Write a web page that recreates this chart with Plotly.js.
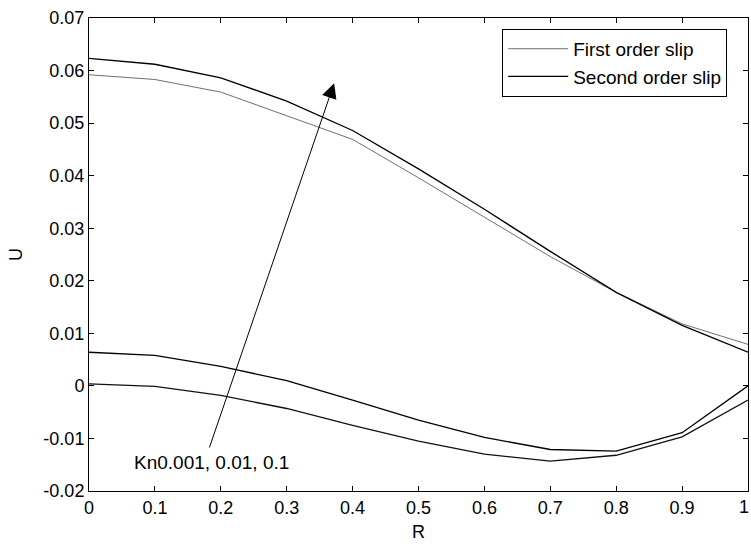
<!DOCTYPE html>
<html>
<head>
<meta charset="utf-8">
<script src="https://cdn.plot.ly/plotly-3.0.1.min.js"></script>
<style>html,body{margin:0;padding:0;background:#fff;}#chart{width:751px;height:544px;}</style>
</head>
<body>
<div id="chart"></div>
<script>
const R = [0, 0.1, 0.2, 0.3, 0.4, 0.5, 0.6, 0.7, 0.8, 0.9, 1.0];
const firstOrderTop = [0.0592, 0.0583, 0.0559, 0.0514, 0.0469, 0.0396, 0.0321, 0.0246, 0.0178, 0.0118, 0.0079];
const secondOrderTop = [0.0623, 0.0612, 0.0586, 0.0542, 0.0486, 0.0413, 0.0336, 0.0256, 0.0178, 0.0115, 0.0064];
const bottomUpper = [0.0064, 0.0058, 0.0037, 0.0010, -0.0027, -0.0065, -0.0098, -0.0121, -0.0124, -0.0089, 0.0000];
const bottomLower = [0.0004, -0.0001, -0.0018, -0.0043, -0.0075, -0.0105, -0.0130, -0.0143, -0.0132, -0.0097, -0.0027];
const seriesNames = ["First order slip", "Second order slip"];
const xTicks = [0, 0.1, 0.2, 0.3, 0.4, 0.5, 0.6, 0.7, 0.8, 0.9];
const xTickText = ["0", "0.1", "0.2", "0.3", "0.4", "0.5", "0.6", "0.7", "0.8", "0.9"];
const lastXTick = 1;
const lastXTickText = "1";
const yTicks = [-0.02, -0.01, 0, 0.01, 0.02, 0.03, 0.04, 0.05, 0.06, 0.07];
const yTickText = ["-0.02", "-0.01", "0", "0.01", "0.02", "0.03", "0.04", "0.05", "0.06", "0.07"];
const annotationText = "Kn0.001, 0.01, 0.1";
const arrowTail = [0.182, -0.0120];
const arrowTip = [0.372, 0.0576];
const labelPos = [0.065, -0.0146];

const fam = "Liberation Sans, Arial, sans-serif";
const tickFont = {family: fam, size: 18, color: "#000"};
const textFont = {family: fam, size: 19, color: "#000"};
const gray = "#707070";

const traces = [
  {x: R, y: firstOrderTop, mode: "lines", name: seriesNames[0], line: {color: gray, width: 1}, legendgroup: "a"},
  {x: R, y: secondOrderTop, mode: "lines", name: seriesNames[1], line: {color: "#000", width: 1.3}, legendgroup: "b"},
  {x: R, y: bottomUpper, mode: "lines", showlegend: false, line: {color: "#000", width: 1.3}},
  {x: R, y: bottomLower, mode: "lines", showlegend: false, line: {color: "#111", width: 1.3}}
];

const axisCommon = {
  showgrid: false, zeroline: false, showline: true, linecolor: "#000", linewidth: 1,
  mirror: "ticks", ticks: "inside", ticklen: 5, tickcolor: "#000", tickwidth: 1,
  tickfont: tickFont
};

const layout = {
  width: 751, height: 544,
  margin: {l: 89, r: 3, t: 18, b: 53},
  paper_bgcolor: "#fff", plot_bgcolor: "#fff",
  font: tickFont,
  showlegend: true,
  legend: {
    x: 0.627, y: 0.977, xanchor: "left", yanchor: "top",
    bordercolor: "#000", borderwidth: 1, bgcolor: "#fff",
    font: textFont, tracegroupgap: 0, itemwidth: 60
  },
  xaxis: Object.assign({}, axisCommon, {
    range: [0, 1], tickvals: xTicks.concat([lastXTick]), ticktext: xTickText.concat([""]),
    title: {text: "R", font: tickFont, standoff: 8}
  }),
  yaxis: Object.assign({}, axisCommon, {
    range: [-0.02, 0.07], tickvals: yTicks, ticktext: yTickText,
    title: {text: "U", font: tickFont, standoff: 16}
  }),
  annotations: [
    {
      x: arrowTip[0], y: arrowTip[1], ax: arrowTail[0], ay: arrowTail[1],
      xref: "x", yref: "y", axref: "x", ayref: "y",
      text: "", showarrow: true, arrowhead: 2, arrowsize: 3, arrowwidth: 1, arrowcolor: "#000"
    },
    {
      x: labelPos[0], y: labelPos[1], xref: "x", yref: "y",
      text: annotationText, showarrow: false, xanchor: "left", yanchor: "middle", font: textFont
    },
    {
      x: lastXTick, y: 0, xref: "x", yref: "paper", yanchor: "top", xanchor: "right", xshift: 3, yshift: -4,
      text: lastXTickText, showarrow: false, font: tickFont
    }
  ]
};

Plotly.newPlot("chart", traces, layout, {displayModeBar: false, staticPlot: true});
</script>
</body>
</html>
